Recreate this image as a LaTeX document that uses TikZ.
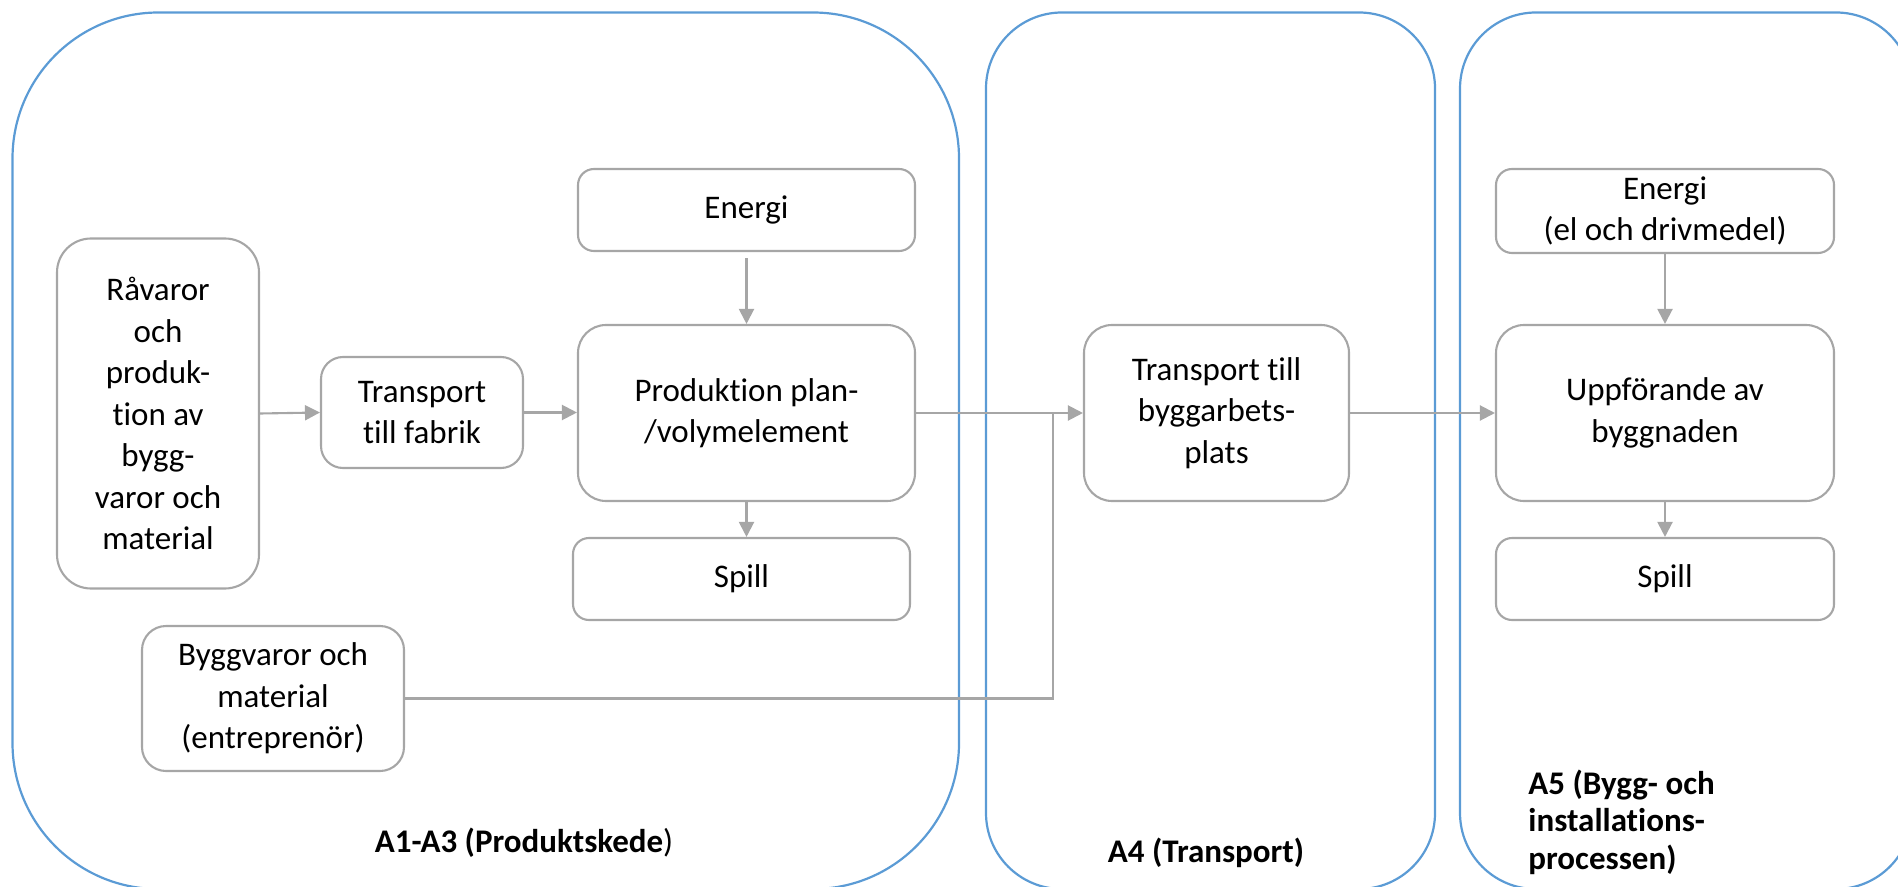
\documentclass[tikz,border=0pt]{standalone}
\usepackage{fontspec}
\setmainfont{Carlito}[Ligatures={NoCommon,NoContextual}]
\usetikzlibrary{arrows.meta}
\definecolor{grayline}{HTML}{A6A6A6}
\definecolor{blueline}{HTML}{5B9BD5}
\begin{document}
\begin{tikzpicture}[x=0.5pt,y=-0.5pt,
  box/.style={draw=grayline, line width=1.05pt, fill=white, align=center, inner sep=0pt,
    font=\fontsize{16.5}{20.75}\selectfont},
  conn/.style={draw=grayline, line width=1.05pt},
  arr/.style={conn, -{Triangle[length=7.5pt,width=7.5pt]}},
  grp/.style={draw=blueline, line width=1.1pt},
  lbl/.style={font=\fontsize{16.5}{18.75}\selectfont\bfseries, inner sep=0pt, align=left}]
\useasboundingbox (0,0) rectangle (1898,887);
\clip (0,0) rectangle (1898,887);

% group containers
\draw[grp, rounded corners=73pt] (12.5,12.5) rectangle (959,889);
\draw[grp, rounded corners=38pt] (986,12.5) rectangle (1435,889);
\draw[grp, rounded corners=38pt] (1460,12.5) rectangle (1912,889);

% nodes
\node[box, rounded corners=17pt, minimum width=101pt, minimum height=175pt] (rav) at (158,413.5)
  {Råvaror\\och\\produk-\\tion av\\bygg-\\varor och\\material};
\node[box, rounded corners=11pt, minimum width=101pt, minimum height=55.5pt] (tf) at (422,412.5)
  {Transport\\till fabrik};
\node[box, rounded corners=8pt, minimum width=168.5pt, minimum height=41pt] (en1) at (746.5,210)
  {Energi};
\node[box, rounded corners=14pt, minimum width=168.5pt, minimum height=88pt] (prod) at (746.5,413)
  {Produktion plan-\\/volymelement};
\node[box, rounded corners=8pt, minimum width=168.5pt, minimum height=41pt] (sp1) at (741.5,579)
  {Spill};
\node[box, rounded corners=12pt, minimum width=131pt, minimum height=72.5pt] (bygg) at (273,698.5)
  {Byggvaror och\\material\\(entreprenör)};
\node[box, rounded corners=14pt, minimum width=132.5pt, minimum height=88pt] (tb) at (1216.5,413)
  {Transport till\\byggarbets-\\plats};
\node[box, rounded corners=8pt, minimum width=169pt, minimum height=42pt] (en2) at (1665,211)
  {Energi\\(el och drivmedel)};
\node[box, rounded corners=14pt, minimum width=169pt, minimum height=88pt] (upp) at (1665,413)
  {Uppförande av\\byggnaden};
\node[box, rounded corners=8pt, minimum width=169pt, minimum height=41pt] (sp2) at (1665,579)
  {Spill};

% labels
\node[lbl] (l1) at (524,843) {A1-A3 (Produktskede\textmd{)}};
\node[lbl] (l2) at (1206,853) {A4 (Transport)};
\node[lbl, anchor=west] (l3) at (1528,822) {A5 (Bygg- och\\installations-\\processen)};

% connectors
\coordinate (jn) at (1053,413);
\draw[arr] (rav.east) -- (tf.west);
\draw[arr] (tf.east) -- (tf.east -| prod.west);
\draw[arr, shorten <=3pt] (en1.south) -- (prod.north);
\draw[arr] (prod.south) -- (prod.south |- sp1.north);
\draw[conn] (bygg.east) -| (jn);
\draw[arr] (prod.east) -- (tb.west);
\draw[arr] (tb.east) -- (upp.west);
\draw[arr] (en2.south) -- (upp.north);
\draw[arr] (upp.south) -- (sp2.north);
\end{tikzpicture}
\end{document}
